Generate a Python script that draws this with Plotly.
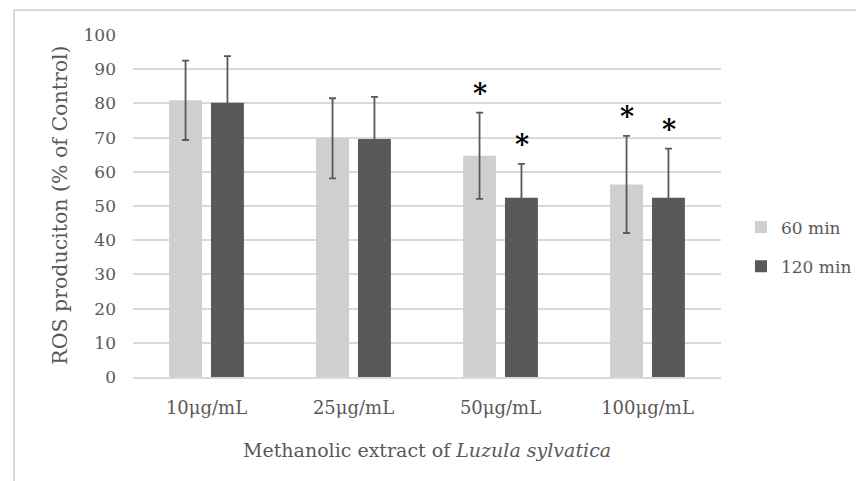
import plotly.graph_objects as go

categories = ["10μg/mL", "25μg/mL", "50μg/mL", "100μg/mL"]
series_names = ["60 min", "120 min"]
values_60 = [80.9, 69.8, 64.7, 56.3]
errors_60 = [11.6, 11.7, 12.6, 14.2]
values_120 = [80.2, 69.6, 52.4, 52.4]
errors_120 = [13.6, 12.3, 9.9, 14.4]
signif_60 = [False, False, True, True]
signif_120 = [False, False, True, True]
y_ticks = [0, 10, 20, 30, 40, 50, 60, 70, 80, 90, 100]

LIGHT = "#D0CECE"
DARK = "#595959"
TEXT = "#595959"
GRID = "#D9D9D9"
FONT = "DejaVu Serif"

fig = go.Figure()
fig.add_trace(go.Bar(
    x=categories, y=values_60, name=series_names[0],
    marker=dict(color=LIGHT, line=dict(width=0)),
    error_y=dict(type="data", array=errors_60, color=DARK, thickness=1.8, width=3.5),
    legendgroup="a",
))
fig.add_trace(go.Bar(
    x=categories, y=values_120, name=series_names[1],
    marker=dict(color=DARK, line=dict(width=0)),
    error_y=dict(type="data", array=errors_120, color=DARK, thickness=1.8, width=3.5),
    legendgroup="b",
))

# significance stars
annotations = []
for i, c in enumerate(categories):
    for sig, vals, errs, off in ((signif_60, values_60, errors_60, -0.5), (signif_120, values_120, errors_120, 0.5)):
        if sig[i]:
            annotations.append(dict(
                x=c, y=vals[i] + errs[i], xref="x", yref="y",
                text="<b>*</b>", showarrow=False, xshift=off * 42,
                yanchor="bottom", yshift=2,
                font=dict(family=FONT, size=27, color="#000000"),
            ))

annotations.append(dict(
    x=-0.124, y=0.501, xref="paper", yref="paper", text="ROS produciton (% of Control)",
    textangle=-90, showarrow=False, xanchor="center", yanchor="middle",
    font=dict(family=FONT, size=20.5, color=TEXT),
))
annotations.append(dict(
    x=0.5, y=-0.213, xref="paper", yref="paper",
    text="Methanolic extract of <i>Luzula sylvatica</i>",
    showarrow=False, xanchor="center", yanchor="middle",
    font=dict(family=FONT, size=19, color=TEXT),
))

fig.update_layout(
    width=856, height=473,
    margin=dict(l=125, r=143, t=27, b=104, autoexpand=False),
    paper_bgcolor="white", plot_bgcolor="white",
    barmode="group", bargap=0.43, bargroupgap=0.214,
    font=dict(family=FONT, color=TEXT),
    showlegend=True,
    legend=dict(
        x=1.034, y=0.38, xanchor="left", yanchor="middle",
        font=dict(family=FONT, size=17, color=TEXT),
        traceorder="grouped", tracegroupgap=14,
        bgcolor="rgba(0,0,0,0)",
    ),
    annotations=annotations,
    shapes=[
        dict(type="line", xref="paper", yref="paper", x0=-0.2024, x1=1.3, y0=1.0731, y1=1.0731,
             line=dict(color=GRID, width=2)),
        dict(type="line", xref="paper", yref="paper", x0=-0.2024, x1=-0.2024, y0=1.0731, y1=-0.4,
             line=dict(color=GRID, width=2)),
    ],
)
fig.update_xaxes(
    showgrid=False, showline=True, linecolor=GRID, linewidth=1.5,
    ticks="", tickfont=dict(family=FONT, size=18, color=TEXT), ticklabelstandoff=14,
)
fig.update_yaxes(
    range=[0, 100], tickvals=y_ticks, showgrid=True, gridcolor=GRID, gridwidth=1.5,
    zeroline=False, showline=False, ticks="",
    tickfont=dict(family=FONT, size=17, color=TEXT), ticklabelstandoff=16,
)

fig.write_html("out.html")
